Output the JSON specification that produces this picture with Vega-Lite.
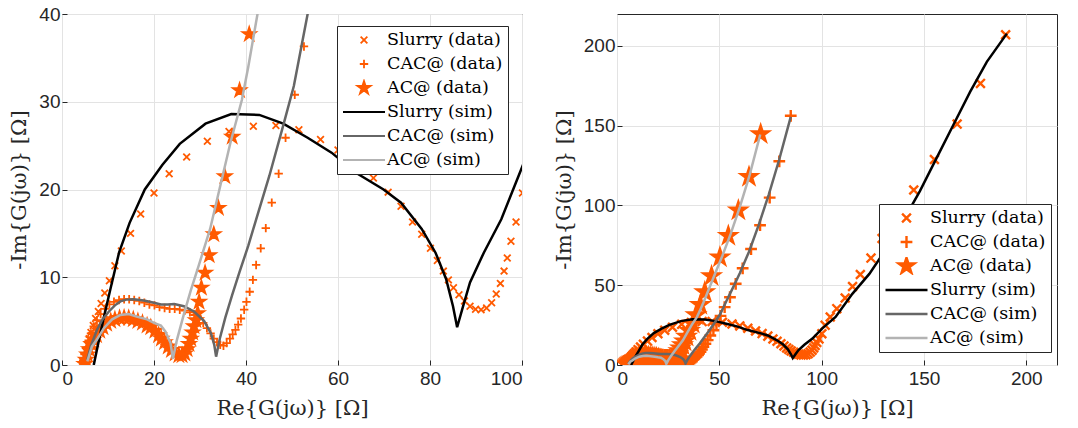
{
"$schema": "https://vega.github.io/schema/vega-lite/v6.json",
"background": "white",
"padding": {"left": 8, "top": 4, "right": 0, "bottom": 0},
"bounds": "flush",
"spacing": 95,
"config": {
  "view": {"stroke": "#262626", "strokeWidth": 1},
  "axis": {"grid": true, "gridColor": "#e3e3e3", "gridWidth": 1, "domain": false, "tickSize": -5, "tickColor": "#262626", "labelFont": "Liberation Sans", "labelFontSize": 19, "labelColor": "#262626", "titleFont": "DejaVu Serif", "titleFontSize": 21, "titleFontWeight": "normal", "titleColor": "#262626"},
  "legend": {"title": null, "orient": "none", "padding": 5, "fillColor": "white", "strokeColor": "#262626", "strokeWidth": 1, "cornerRadius": 0, "labelFont": "DejaVu Serif", "labelFontSize": 17.5, "labelColor": "black", "symbolSize": 1764, "symbolStrokeWidth": 2.5, "labelOffset": 1, "rowPadding": 6, "clipHeight": 18, "labelLimit": 300, "symbolOpacity": 1}
},
"datasets": {
"pts": [
{"series":"Slurry (data)","re":4.5,"im":0.4},{"series":"Slurry (data)","re":4.8,"im":1.0},{"series":"Slurry (data)","re":5.1,"im":1.6},{"series":"Slurry (data)","re":5.5,"im":2.3},{"series":"Slurry (data)","re":5.9,"im":3.0},{"series":"Slurry (data)","re":6.3,"im":3.7},{"series":"Slurry (data)","re":6.8,"im":4.5},{"series":"Slurry (data)","re":7.3,"im":5.3},{"series":"Slurry (data)","re":7.9,"im":6.1},{"series":"Slurry (data)","re":8.5,"im":7.0},{"series":"Slurry (data)","re":9.3,"im":8.2},{"series":"Slurry (data)","re":10.3,"im":9.6},{"series":"Slurry (data)","re":11.5,"im":11.3},{"series":"Slurry (data)","re":12.9,"im":13.0},{"series":"Slurry (data)","re":14.9,"im":15.0},{"series":"Slurry (data)","re":17.1,"im":17.2},{"series":"Slurry (data)","re":20.0,"im":19.6},{"series":"Slurry (data)","re":23.3,"im":21.8},{"series":"Slurry (data)","re":27.1,"im":23.7},{"series":"Slurry (data)","re":31.6,"im":25.5},{"series":"Slurry (data)","re":36.3,"im":26.6},{"series":"Slurry (data)","re":41.6,"im":27.2},{"series":"Slurry (data)","re":46.5,"im":27.3},{"series":"Slurry (data)","re":51.5,"im":26.8},{"series":"Slurry (data)","re":56.2,"im":25.7},{"series":"Slurry (data)","re":60.0,"im":24.5},{"series":"Slurry (data)","re":63.9,"im":23.0},{"series":"Slurry (data)","re":67.7,"im":21.3},{"series":"Slurry (data)","re":70.9,"im":19.7},{"series":"Slurry (data)","re":73.7,"im":18.1},{"series":"Slurry (data)","re":76.2,"im":16.3},{"series":"Slurry (data)","re":78.2,"im":14.9},{"series":"Slurry (data)","re":80.1,"im":13.3},{"series":"Slurry (data)","re":81.6,"im":11.9},{"series":"Slurry (data)","re":82.9,"im":10.7},{"series":"Slurry (data)","re":84.0,"im":9.7},{"series":"Slurry (data)","re":85.1,"im":8.8},{"series":"Slurry (data)","re":86.3,"im":8.0},{"series":"Slurry (data)","re":87.5,"im":7.3},{"series":"Slurry (data)","re":88.7,"im":6.7},{"series":"Slurry (data)","re":89.9,"im":6.35},{"series":"Slurry (data)","re":91.1,"im":6.3},{"series":"Slurry (data)","re":92.3,"im":6.5},{"series":"Slurry (data)","re":93.4,"im":7.1},{"series":"Slurry (data)","re":94.4,"im":8.1},{"series":"Slurry (data)","re":95.3,"im":9.3},{"series":"Slurry (data)","re":96.1,"im":10.7},{"series":"Slurry (data)","re":96.8,"im":12.2},{"series":"Slurry (data)","re":97.6,"im":14.1},{"series":"Slurry (data)","re":98.7,"im":16.3},{"series":"Slurry (data)","re":100.1,"im":19.6},{"series":"Slurry (data)","re":101.7,"im":24.9},{"series":"Slurry (data)","re":104.2,"im":30.1},{"series":"Slurry (data)","re":107.4,"im":35.3},{"series":"Slurry (data)","re":111.5,"im":42.0},{"series":"Slurry (data)","re":115.1,"im":49.2},{"series":"Slurry (data)","re":118.9,"im":56.7},{"series":"Slurry (data)","re":124.1,"im":67.0},{"series":"Slurry (data)","re":129.5,"im":79.3},{"series":"Slurry (data)","re":137.0,"im":94.0},{"series":"Slurry (data)","re":145.0,"im":109.7},{"series":"Slurry (data)","re":155.1,"im":128.8},{"series":"Slurry (data)","re":166.2,"im":151.0},{"series":"Slurry (data)","re":177.6,"im":176.5},{"series":"Slurry (data)","re":189.9,"im":207.0},
{"series":"CAC@ (data)","re":4.6,"im":0.5},{"series":"CAC@ (data)","re":4.9,"im":1.2},{"series":"CAC@ (data)","re":5.3,"im":2.0},{"series":"CAC@ (data)","re":5.8,"im":2.8},{"series":"CAC@ (data)","re":6.3,"im":3.6},{"series":"CAC@ (data)","re":6.9,"im":4.4},{"series":"CAC@ (data)","re":7.6,"im":5.1},{"series":"CAC@ (data)","re":8.4,"im":5.8},{"series":"CAC@ (data)","re":9.3,"im":6.4},{"series":"CAC@ (data)","re":10.3,"im":6.9},{"series":"CAC@ (data)","re":11.3,"im":7.2},{"series":"CAC@ (data)","re":12.4,"im":7.4},{"series":"CAC@ (data)","re":13.5,"im":7.5},{"series":"CAC@ (data)","re":14.6,"im":7.5},{"series":"CAC@ (data)","re":15.7,"im":7.4},{"series":"CAC@ (data)","re":16.8,"im":7.3},{"series":"CAC@ (data)","re":17.9,"im":7.1},{"series":"CAC@ (data)","re":19.0,"im":6.9},{"series":"CAC@ (data)","re":20.1,"im":6.8},{"series":"CAC@ (data)","re":21.2,"im":6.6},{"series":"CAC@ (data)","re":22.3,"im":6.5},{"series":"CAC@ (data)","re":23.4,"im":6.4},{"series":"CAC@ (data)","re":24.5,"im":6.4},{"series":"CAC@ (data)","re":25.6,"im":6.3},{"series":"CAC@ (data)","re":26.7,"im":6.2},{"series":"CAC@ (data)","re":27.8,"im":6.0},{"series":"CAC@ (data)","re":28.8,"im":5.7},{"series":"CAC@ (data)","re":29.8,"im":5.3},{"series":"CAC@ (data)","re":30.7,"im":4.8},{"series":"CAC@ (data)","re":31.5,"im":4.2},{"series":"CAC@ (data)","re":32.3,"im":3.6},{"series":"CAC@ (data)","re":33.0,"im":3.0},{"series":"CAC@ (data)","re":33.7,"im":2.6},{"series":"CAC@ (data)","re":34.4,"im":2.3},{"series":"CAC@ (data)","re":35.1,"im":2.2},{"series":"CAC@ (data)","re":35.8,"im":2.5},{"series":"CAC@ (data)","re":36.5,"im":3.0},{"series":"CAC@ (data)","re":37.1,"im":3.5},{"series":"CAC@ (data)","re":37.7,"im":4.0},{"series":"CAC@ (data)","re":38.3,"im":4.6},{"series":"CAC@ (data)","re":38.9,"im":5.3},{"series":"CAC@ (data)","re":39.6,"im":6.3},{"series":"CAC@ (data)","re":40.1,"im":7.2},{"series":"CAC@ (data)","re":40.8,"im":8.35},{"series":"CAC@ (data)","re":41.5,"im":9.7},{"series":"CAC@ (data)","re":42.2,"im":11.4},{"series":"CAC@ (data)","re":43.2,"im":13.3},{"series":"CAC@ (data)","re":44.3,"im":15.6},{"series":"CAC@ (data)","re":45.6,"im":18.5},{"series":"CAC@ (data)","re":47.1,"im":21.8},{"series":"CAC@ (data)","re":48.6,"im":25.9},{"series":"CAC@ (data)","re":50.6,"im":30.8},{"series":"CAC@ (data)","re":52.6,"im":36.3},{"series":"CAC@ (data)","re":55.2,"im":42.5},{"series":"CAC@ (data)","re":58.0,"im":50.9},{"series":"CAC@ (data)","re":61.4,"im":60.6},{"series":"CAC@ (data)","re":65.5,"im":72.7},{"series":"CAC@ (data)","re":69.9,"im":87.6},{"series":"CAC@ (data)","re":74.6,"im":104.9},{"series":"CAC@ (data)","re":79.3,"im":127.7},{"series":"CAC@ (data)","re":84.9,"im":156.2},
{"series":"AC@ (data)","re":4.9,"im":0.1},{"series":"AC@ (data)","re":5.2,"im":0.6},{"series":"AC@ (data)","re":5.5,"im":1.2},{"series":"AC@ (data)","re":5.9,"im":1.8},{"series":"AC@ (data)","re":6.4,"im":2.4},{"series":"AC@ (data)","re":6.9,"im":2.9},{"series":"AC@ (data)","re":7.5,"im":3.4},{"series":"AC@ (data)","re":8.2,"im":3.9},{"series":"AC@ (data)","re":8.9,"im":4.3},{"series":"AC@ (data)","re":9.7,"im":4.7},{"series":"AC@ (data)","re":10.6,"im":5.0},{"series":"AC@ (data)","re":11.5,"im":5.2},{"series":"AC@ (data)","re":12.5,"im":5.35},{"series":"AC@ (data)","re":13.5,"im":5.4},{"series":"AC@ (data)","re":14.5,"im":5.35},{"series":"AC@ (data)","re":15.5,"im":5.2},{"series":"AC@ (data)","re":16.5,"im":5.0},{"series":"AC@ (data)","re":17.5,"im":4.8},{"series":"AC@ (data)","re":18.5,"im":4.5},{"series":"AC@ (data)","re":19.3,"im":4.3},{"series":"AC@ (data)","re":20.2,"im":3.9},{"series":"AC@ (data)","re":21.0,"im":3.4},{"series":"AC@ (data)","re":21.6,"im":3.0},{"series":"AC@ (data)","re":22.3,"im":2.6},{"series":"AC@ (data)","re":23.1,"im":2.1},{"series":"AC@ (data)","re":23.8,"im":1.7},{"series":"AC@ (data)","re":24.6,"im":1.3},{"series":"AC@ (data)","re":25.4,"im":1.1},{"series":"AC@ (data)","re":26.1,"im":1.1},{"series":"AC@ (data)","re":26.7,"im":1.3},{"series":"AC@ (data)","re":27.2,"im":1.8},{"series":"AC@ (data)","re":27.6,"im":2.4},{"series":"AC@ (data)","re":28.0,"im":3.0},{"series":"AC@ (data)","re":28.4,"im":3.7},{"series":"AC@ (data)","re":28.7,"im":4.4},{"series":"AC@ (data)","re":29.1,"im":5.1},{"series":"AC@ (data)","re":29.5,"im":5.9},{"series":"AC@ (data)","re":29.8,"im":7.2},{"series":"AC@ (data)","re":30.3,"im":8.8},{"series":"AC@ (data)","re":31.1,"im":10.5},{"series":"AC@ (data)","re":32.0,"im":12.5},{"series":"AC@ (data)","re":33.0,"im":14.9},{"series":"AC@ (data)","re":34.0,"im":17.9},{"series":"AC@ (data)","re":35.4,"im":21.5},{"series":"AC@ (data)","re":37.0,"im":26.0},{"series":"AC@ (data)","re":38.6,"im":31.3},{"series":"AC@ (data)","re":40.7,"im":37.7},{"series":"AC@ (data)","re":42.9,"im":45.7},{"series":"AC@ (data)","re":46.2,"im":55.7},{"series":"AC@ (data)","re":50.3,"im":67.5},{"series":"AC@ (data)","re":54.4,"im":81.0},{"series":"AC@ (data)","re":59.3,"im":97.0},{"series":"AC@ (data)","re":64.5,"im":118.0},{"series":"AC@ (data)","re":70.2,"im":144.8}
],
"sim": [
{"series":"Slurry (sim)","re":6.9,"im":0.0},{"series":"Slurry (sim)","re":7.9,"im":2.5},{"series":"Slurry (sim)","re":9.0,"im":5.2},{"series":"Slurry (sim)","re":10.5,"im":8.6},{"series":"Slurry (sim)","re":12.4,"im":12.8},{"series":"Slurry (sim)","re":14.7,"im":16.2},{"series":"Slurry (sim)","re":18.0,"im":20.0},{"series":"Slurry (sim)","re":21.8,"im":22.8},{"series":"Slurry (sim)","re":25.6,"im":25.2},{"series":"Slurry (sim)","re":31.2,"im":27.5},{"series":"Slurry (sim)","re":36.8,"im":28.6},{"series":"Slurry (sim)","re":42.9,"im":28.5},{"series":"Slurry (sim)","re":48.1,"im":27.5},{"series":"Slurry (sim)","re":53.4,"im":25.9},{"series":"Slurry (sim)","re":58.6,"im":24.2},{"series":"Slurry (sim)","re":63.9,"im":21.9},{"series":"Slurry (sim)","re":69.9,"im":20.0},{"series":"Slurry (sim)","re":73.7,"im":18.5},{"series":"Slurry (sim)","re":78.2,"im":15.5},{"series":"Slurry (sim)","re":81.2,"im":12.8},{"series":"Slurry (sim)","re":83.5,"im":9.8},{"series":"Slurry (sim)","re":85.0,"im":6.7},{"series":"Slurry (sim)","re":85.9,"im":4.3},{"series":"Slurry (sim)","re":87.2,"im":6.7},{"series":"Slurry (sim)","re":88.7,"im":9.4},{"series":"Slurry (sim)","re":91.7,"im":12.8},{"series":"Slurry (sim)","re":95.5,"im":16.6},{"series":"Slurry (sim)","re":100.2,"im":22.8},{"series":"Slurry (sim)","re":106.8,"im":30.1},{"series":"Slurry (sim)","re":115.0,"im":44.6},{"series":"Slurry (sim)","re":123.3,"im":57.1},{"series":"Slurry (sim)","re":131.5,"im":72.7},{"series":"Slurry (sim)","re":139.8,"im":90.3},{"series":"Slurry (sim)","re":148.0,"im":109.0},{"series":"Slurry (sim)","re":156.2,"im":129.8},{"series":"Slurry (sim)","re":164.4,"im":150.6},{"series":"Slurry (sim)","re":172.6,"im":171.3},{"series":"Slurry (sim)","re":180.7,"im":190.0},{"series":"Slurry (sim)","re":190.5,"im":207.7},
{"series":"CAC@ (sim)","re":5.5,"im":0.6},{"series":"CAC@ (sim)","re":6.3,"im":2.2},{"series":"CAC@ (sim)","re":7.6,"im":4.0},{"series":"CAC@ (sim)","re":8.8,"im":5.2},{"series":"CAC@ (sim)","re":10.2,"im":6.1},{"series":"CAC@ (sim)","re":11.5,"im":6.8},{"series":"CAC@ (sim)","re":12.7,"im":7.25},{"series":"CAC@ (sim)","re":14.0,"im":7.45},{"series":"CAC@ (sim)","re":15.6,"im":7.5},{"series":"CAC@ (sim)","re":17.8,"im":7.35},{"series":"CAC@ (sim)","re":20.0,"im":7.1},{"series":"CAC@ (sim)","re":21.5,"im":6.9},{"series":"CAC@ (sim)","re":23.0,"im":6.9},{"series":"CAC@ (sim)","re":24.4,"im":6.95},{"series":"CAC@ (sim)","re":26.5,"im":6.7},{"series":"CAC@ (sim)","re":28.7,"im":6.1},{"series":"CAC@ (sim)","re":30.9,"im":5.0},{"series":"CAC@ (sim)","re":32.4,"im":3.6},{"series":"CAC@ (sim)","re":33.1,"im":2.3},{"series":"CAC@ (sim)","re":33.5,"im":0.95},{"series":"CAC@ (sim)","re":34.3,"im":3.0},{"series":"CAC@ (sim)","re":35.5,"im":5.4},{"series":"CAC@ (sim)","re":37.0,"im":8.0},{"series":"CAC@ (sim)","re":38.6,"im":10.6},{"series":"CAC@ (sim)","re":40.5,"im":13.6},{"series":"CAC@ (sim)","re":42.1,"im":16.4},{"series":"CAC@ (sim)","re":45.1,"im":21.6},{"series":"CAC@ (sim)","re":48.1,"im":27.3},{"series":"CAC@ (sim)","re":50.4,"im":31.8},{"series":"CAC@ (sim)","re":53.4,"im":40.0},{"series":"CAC@ (sim)","re":56.5,"im":48.0},{"series":"CAC@ (sim)","re":60.0,"im":57.5},{"series":"CAC@ (sim)","re":64.5,"im":71.0},{"series":"CAC@ (sim)","re":69.3,"im":88.0},{"series":"CAC@ (sim)","re":74.2,"im":107.0},{"series":"CAC@ (sim)","re":79.2,"im":128.5},{"series":"CAC@ (sim)","re":84.9,"im":155.5},
{"series":"AC@ (sim)","re":5.5,"im":0.4},{"series":"AC@ (sim)","re":6.5,"im":2.1},{"series":"AC@ (sim)","re":7.6,"im":2.9},{"series":"AC@ (sim)","re":9.1,"im":4.2},{"series":"AC@ (sim)","re":10.9,"im":5.2},{"series":"AC@ (sim)","re":12.7,"im":5.7},{"series":"AC@ (sim)","re":14.5,"im":5.8},{"series":"AC@ (sim)","re":16.4,"im":5.5},{"series":"AC@ (sim)","re":18.5,"im":5.2},{"series":"AC@ (sim)","re":20.0,"im":4.8},{"series":"AC@ (sim)","re":21.5,"im":4.5},{"series":"AC@ (sim)","re":22.5,"im":3.8},{"series":"AC@ (sim)","re":23.6,"im":2.5},{"series":"AC@ (sim)","re":24.1,"im":0.7},{"series":"AC@ (sim)","re":25.0,"im":2.9},{"series":"AC@ (sim)","re":26.5,"im":5.8},{"series":"AC@ (sim)","re":28.0,"im":8.5},{"series":"AC@ (sim)","re":29.7,"im":11.3},{"series":"AC@ (sim)","re":32.2,"im":15.5},{"series":"AC@ (sim)","re":34.4,"im":20.4},{"series":"AC@ (sim)","re":36.6,"im":25.3},{"series":"AC@ (sim)","re":39.1,"im":30.2},{"series":"AC@ (sim)","re":40.5,"im":34.0},{"series":"AC@ (sim)","re":42.5,"im":40.0},{"series":"AC@ (sim)","re":45.0,"im":48.0},{"series":"AC@ (sim)","re":48.0,"im":57.5},{"series":"AC@ (sim)","re":51.5,"im":68.5},{"series":"AC@ (sim)","re":55.5,"im":82.0},{"series":"AC@ (sim)","re":60.0,"im":99.0},{"series":"AC@ (sim)","re":64.8,"im":119.0},{"series":"AC@ (sim)","re":70.0,"im":144.5}
]
},
"resolve": {"scale": {"shape": "independent", "strokeWidth": "independent"}, "legend": {"color": "independent", "shape": "independent", "strokeWidth": "independent"}},
"hconcat": [
{
  "width": 460, "height": 351,
  "layer": [
    {"data": {"name": "pts"},
     "mark": {"type": "point", "filled": true, "stroke": "#FF5A00", "opacity": 1, "size": 1764, "clip": true},
     "encoding": {
       "x": {"field": "re", "type": "quantitative", "scale": {"domain": [0, 100], "nice": false, "zero": false}, "axis": {"values": [0, 20, 40, 60, 80, 100], "title": "Re{G(jω)} [Ω]", "labelPadding": 9, "titlePadding": 9}},
       "y": {"field": "im", "type": "quantitative", "scale": {"domain": [0, 40], "nice": false, "zero": false}, "axis": {"values": [0, 10, 20, 30, 40], "title": "-Im{G(jω)} [Ω]", "labelPadding": 7, "titlePadding": 9}},
       "color": {"field": "series", "type": "nominal", "scale": {"domain": ["Slurry (data)", "CAC@ (data)", "AC@ (data)", "Slurry (sim)", "CAC@ (sim)", "AC@ (sim)"], "range": ["#FF5A00", "#FF5A00", "#FF5A00", "#000000", "#666666", "#b3b3b3"]}, "legend": {"legendX": 275, "legendY": 12}},
       "shape": {"field": "series", "type": "nominal", "scale": {"domain": ["Slurry (data)", "CAC@ (data)", "AC@ (data)", "Slurry (sim)", "CAC@ (sim)", "AC@ (sim)"], "range": ["M-0.16,-0.16L0.16,0.16M-0.16,0.16L0.16,-0.16", "M-0.2,0L0.2,0M0,-0.2L0,0.2", "M0,-0.33L0.074,-0.102L0.314,-0.102L0.12,0.039L0.194,0.267L0,0.126L-0.194,0.267L-0.12,0.039L-0.314,-0.102L-0.074,-0.102Z", "M-1,0L1,0", "M-1,0L1,0", "M-1,0L1,0"]}, "legend": {"legendX": 275, "legendY": 12}},
       "strokeWidth": {"field": "series", "type": "nominal", "scale": {"domain": ["Slurry (data)", "CAC@ (data)", "AC@ (data)", "Slurry (sim)", "CAC@ (sim)", "AC@ (sim)"], "range": [1.8, 1.8, 1.0, 2.5, 2.5, 2.5]}, "legend": {"legendX": 275, "legendY": 12}}
     }},
    {"data": {"name": "sim"},
     "mark": {"type": "line", "strokeWidth": 2.5, "clip": true},
     "encoding": {
       "x": {"field": "re", "type": "quantitative"},
       "y": {"field": "im", "type": "quantitative"},
       "color": {"field": "series", "type": "nominal"}
     }}
  ]
},
{
  "width": 440, "height": 351,
  "layer": [
    {"data": {"name": "pts"},
     "mark": {"type": "point", "filled": true, "stroke": "#FF5A00", "opacity": 1, "size": 1764, "clip": true},
     "encoding": {
       "x": {"field": "re", "type": "quantitative", "scale": {"domain": [0, 215], "nice": false, "zero": false}, "axis": {"values": [0, 50, 100, 150, 200], "title": "Re{G(jω)} [Ω]", "labelPadding": 9, "titlePadding": 9}},
       "y": {"field": "im", "type": "quantitative", "scale": {"domain": [0, 220], "nice": false, "zero": false}, "axis": {"values": [0, 50, 100, 150, 200], "title": "-Im{G(jω)} [Ω]", "labelPadding": 7, "titlePadding": 9}},
       "color": {"field": "series", "type": "nominal", "scale": {"domain": ["Slurry (data)", "CAC@ (data)", "AC@ (data)", "Slurry (sim)", "CAC@ (sim)", "AC@ (sim)"], "range": ["#FF5A00", "#FF5A00", "#FF5A00", "#000000", "#666666", "#b3b3b3"]}, "legend": {"legendX": 262, "legendY": 190}},
       "shape": {"field": "series", "type": "nominal", "scale": {"domain": ["Slurry (data)", "CAC@ (data)", "AC@ (data)", "Slurry (sim)", "CAC@ (sim)", "AC@ (sim)"], "range": ["M-0.21,-0.21L0.21,0.21M-0.21,0.21L0.21,-0.21", "M-0.28,0L0.28,0M0,-0.28L0,0.28", "M0,-0.4L0.09,-0.124L0.38,-0.124L0.145,0.047L0.235,0.324L0,0.153L-0.235,0.324L-0.145,0.047L-0.38,-0.124L-0.09,-0.124Z", "M-1,0L1,0", "M-1,0L1,0", "M-1,0L1,0"]}, "legend": {"legendX": 262, "legendY": 190}},
       "strokeWidth": {"field": "series", "type": "nominal", "scale": {"domain": ["Slurry (data)", "CAC@ (data)", "AC@ (data)", "Slurry (sim)", "CAC@ (sim)", "AC@ (sim)"], "range": [2.4, 2.4, 1.2, 2.5, 2.5, 2.5]}, "legend": {"legendX": 262, "legendY": 190}}
     }},
    {"data": {"name": "sim"},
     "mark": {"type": "line", "strokeWidth": 2.5, "clip": true},
     "encoding": {
       "x": {"field": "re", "type": "quantitative"},
       "y": {"field": "im", "type": "quantitative"},
       "color": {"field": "series", "type": "nominal"}
     }}
  ]
}
]
}
